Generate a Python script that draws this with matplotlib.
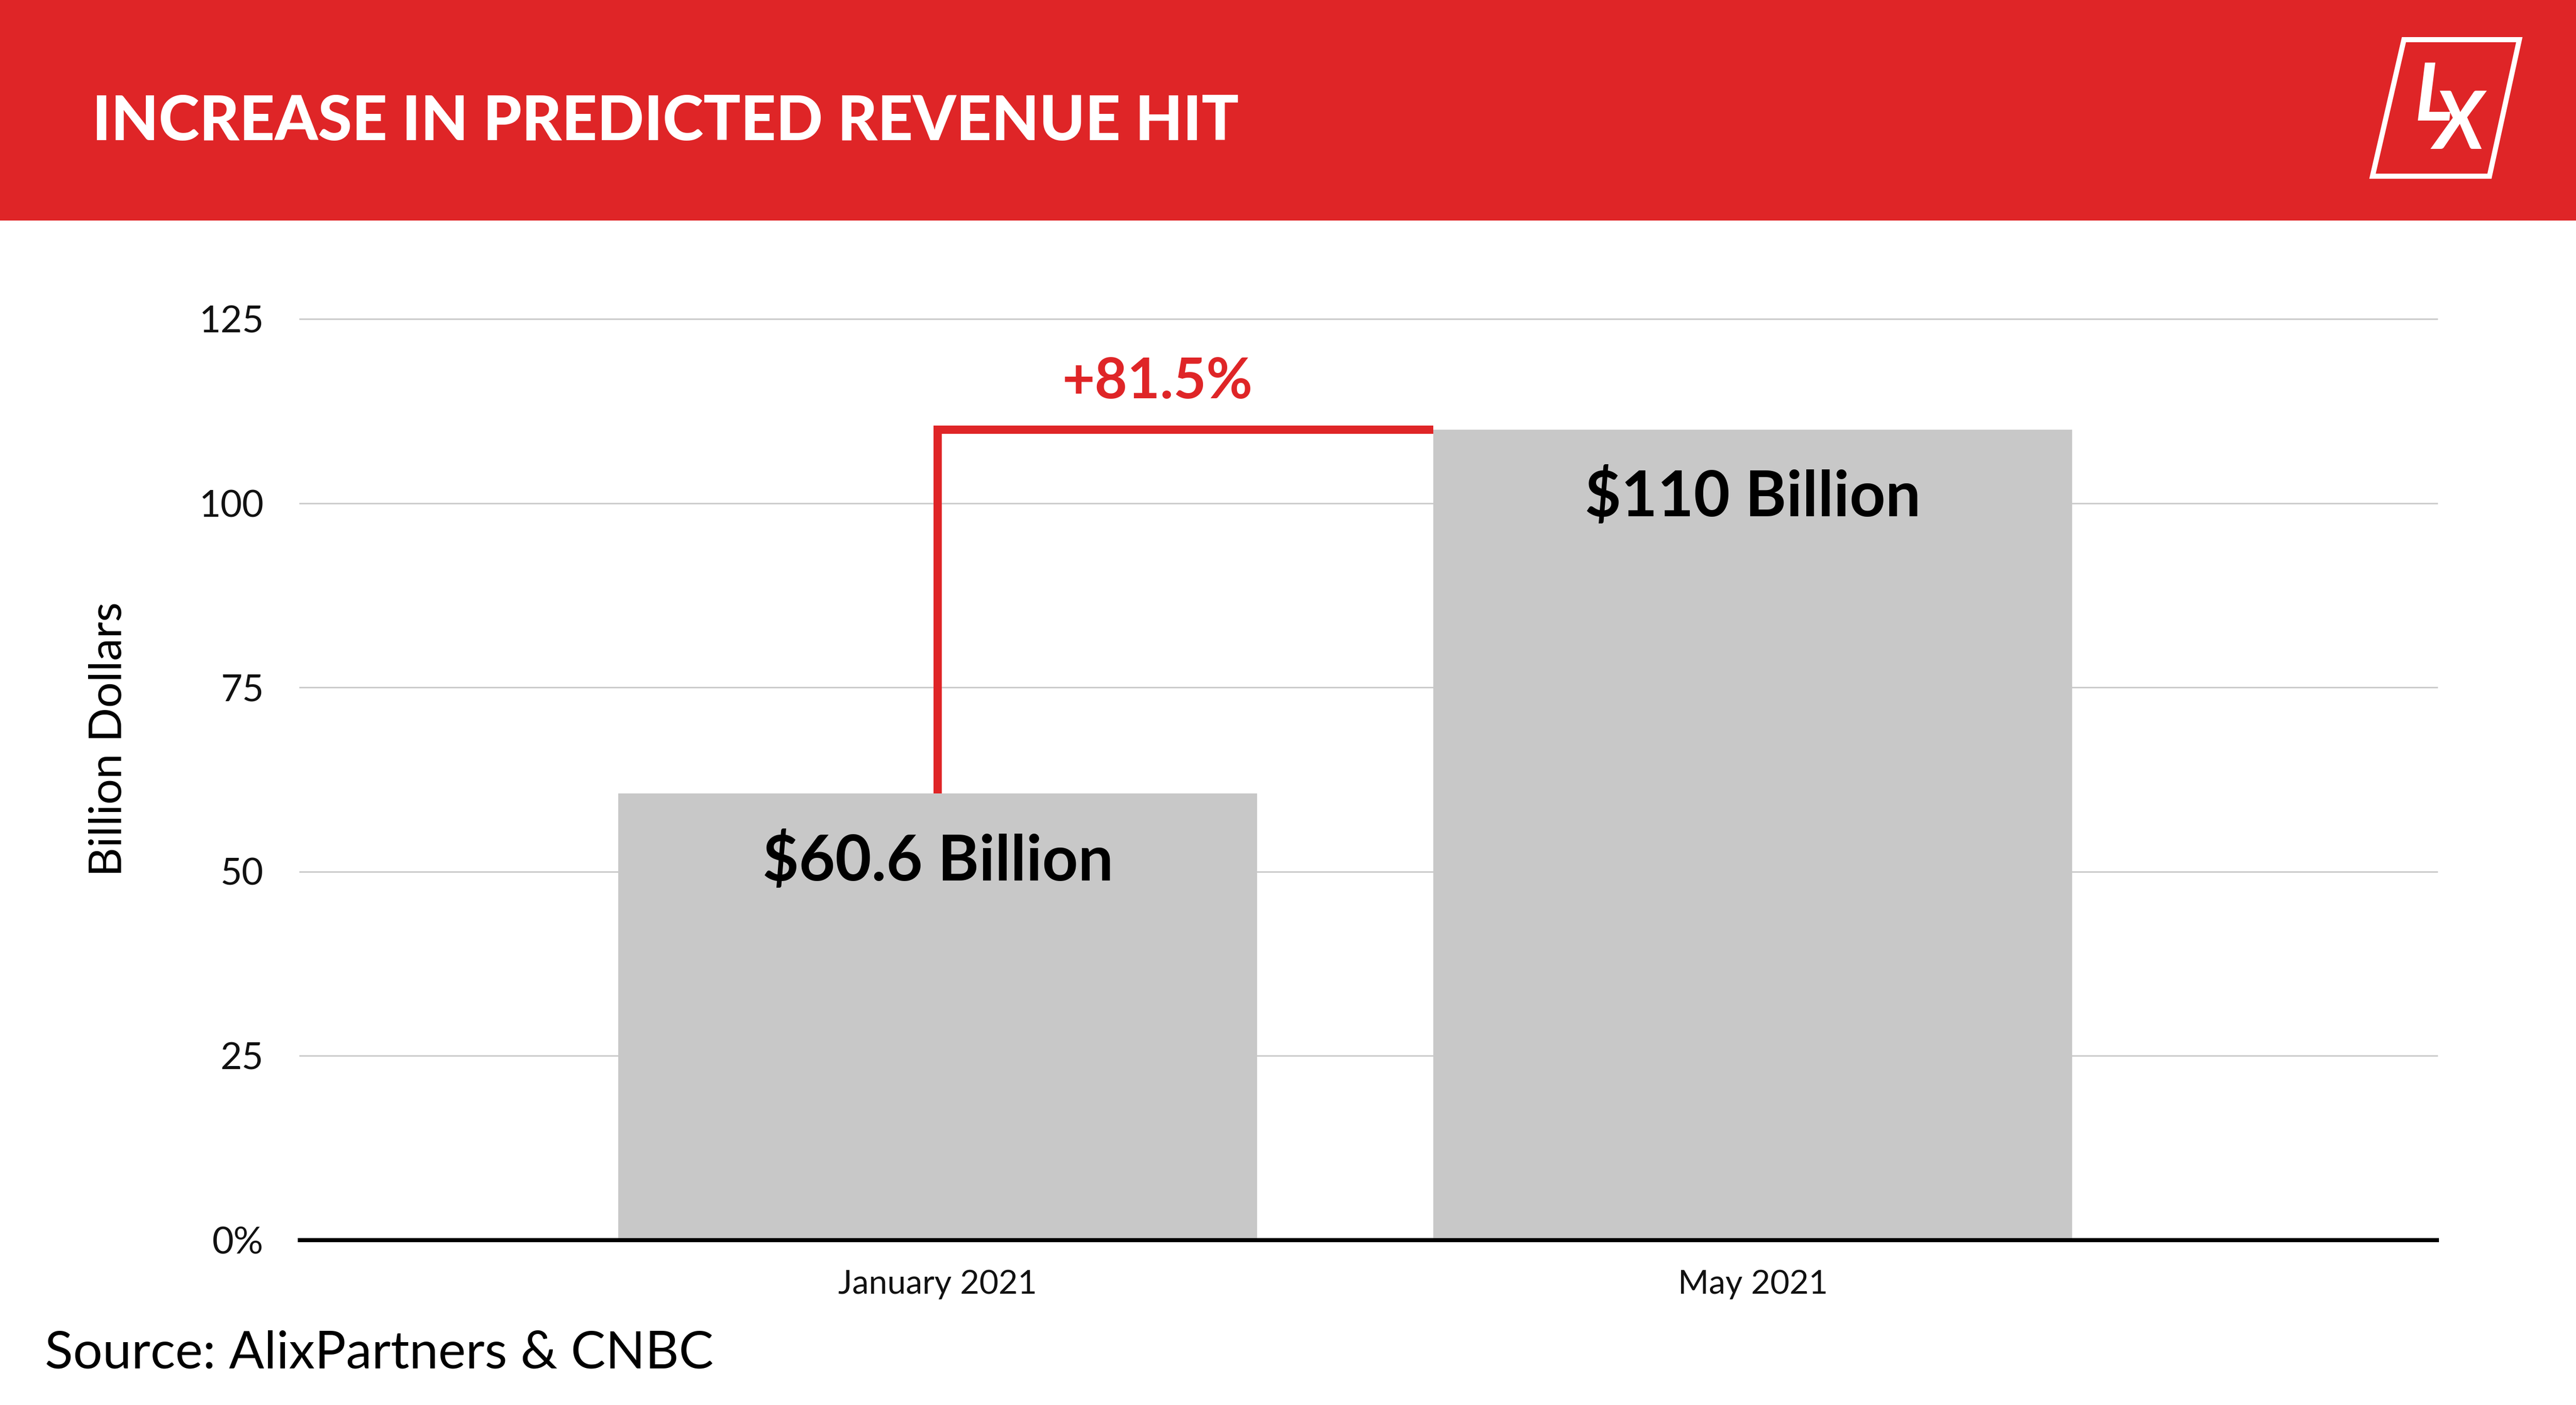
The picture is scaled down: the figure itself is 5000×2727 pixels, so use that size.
import matplotlib
matplotlib.use('Agg')
import matplotlib.pyplot as plt
from matplotlib.patches import Rectangle, Polygon

# ---------------- data ----------------
categories = ['January 2021', 'May 2021']
values = [60.6, 110]
value_labels = ['$60.6 Billion', '$110 Billion']
change_label = '+81.5%'
yticks = [0, 25, 50, 75, 100, 125]
ytick_labels = ['0%', '25', '50', '75', '100', '125']
title = 'INCREASE IN PREDICTED REVENUE HIT'
ylabel = 'Billion Dollars'
source = 'Source: AlixPartners & CNBC'

# ---------------- style ----------------
RED = '#DF2527'
BAR = '#C8C8C8'
GRID = '#CCCCCC'
FONT = ['Lato', 'DejaVu Sans']
plt.rcParams['font.family'] = FONT

W, H, DPI = 5000, 2727, 100
fig = plt.figure(figsize=(W / DPI, H / DPI), dpi=DPI)
fig.patch.set_facecolor('white')
renderer = fig.canvas.get_renderer()


def fx(px):
    return px / W


def fy(py):
    return 1 - py / H


def fit_size(s, width_px, **kw):
    t = fig.text(0, 0, s, fontsize=100, **kw)
    w = t.get_window_extent(renderer).width
    t.remove()
    return 100 * width_px / w


# ---------------- header ----------------
fig.add_artist(Rectangle((0, fy(428)), 1, 428 / H, transform=fig.transFigure,
                         facecolor=RED, edgecolor='none', zorder=0))
ts = fit_size(title, 2224, weight='black')
fig.text(fx(179), fy(272), title, fontsize=ts, weight='black', color='white',
         ha='left', va='baseline')

# logo
lw_px = 10
logo = Polygon([(fx(4666), fy(77)), (fx(4890), fy(77)),
                (fx(4832), fy(342)), (fx(4605), fy(342))],
               closed=True, fill=False, edgecolor='white', lw=lw_px * 72 / DPI,
               joinstyle='miter', transform=fig.transFigure)
fig.add_artist(logo)
fig.text(fx(4686), fy(234), 'L', fontsize=112, color='white', style='italic',
         weight='bold', ha='left', va='baseline')
fig.text(fx(4724), fy(289), 'X', fontsize=112, color='white', style='italic',
         weight='bold', ha='left', va='baseline')

# ---------------- axes ----------------
ax_left, ax_right = 582, 4730
ax_top, ax_bottom = 619, 2406.5
ax = fig.add_axes([fx(ax_left), fy(ax_bottom), (ax_right - ax_left) / W,
                   (ax_bottom - ax_top) / H])
ax.set_facecolor('none')

x = list(range(len(categories)))
bar_w = 0.784
ax.bar(x, values, width=bar_w, color=BAR, zorder=2)
ax.set_xlim(-0.7826, 1.8394)
ax.set_ylim(0, 125)

for s in ax.spines.values():
    s.set_visible(False)

ax.set_yticks(yticks)
yts = fit_size('125', 126)
ax.set_yticklabels(ytick_labels, fontsize=yts, color='#111111')
ax.set_xticks(x)
xts = fit_size('January 2021', 386)
ax.set_xticklabels(categories, fontsize=xts, color='#111111')
ax.tick_params(axis='y', length=0, pad=70 * 72 / DPI)
ax.tick_params(axis='x', length=0, pad=58 * 72 / DPI)

ax.yaxis.grid(True, color=GRID, lw=3 * 72 / DPI, zorder=0)
ax.set_axisbelow(True)
for gl in ax.get_ygridlines():
    gl.set_clip_on(False)
ax.axhline(0, color='black', lw=8 * 72 / DPI, zorder=4, clip_on=False)

# bracket connecting bars
ax.plot([x[0], x[0], x[1] - bar_w / 2], [values[0], values[1], values[1]],
        color=RED, lw=16 * 72 / DPI, solid_joinstyle='miter',
        solid_capstyle='butt', zorder=5)
cs = fit_size(change_label, 370, weight='bold')
ax.text(0.27, values[1] + 4.2, change_label, fontsize=cs, weight='bold',
        color=RED, ha='center', va='baseline', zorder=6)

# value labels
vs = fit_size(value_labels[0], 681, weight='bold')
for xi, v, lab in zip(x, values, value_labels):
    ax.text(xi, v - 11.8, lab, fontsize=vs, weight='bold', color='black',
            ha='center', va='baseline', zorder=6, parse_math=False)

# y label
ls = fit_size(ylabel, 533)
fig.text(fx(236), fy(1435), ylabel, fontsize=ls, rotation=90,
         rotation_mode='anchor', ha='center', va='baseline', color='black')

# source
ss = fit_size(source, 1298)
fig.text(fx(87), fy(2655), source, fontsize=ss, color='black',
         ha='left', va='baseline')

fig.savefig('out.png', dpi=DPI, facecolor='white')
